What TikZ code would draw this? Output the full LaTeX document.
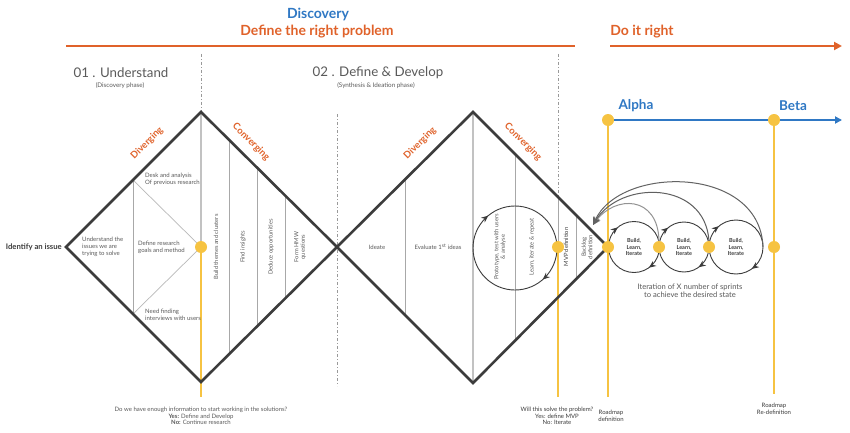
\documentclass[tikz,border=0pt]{standalone}
\usepackage{fontspec}
\setmainfont{Lato}
\usetikzlibrary{arrows.meta,decorations.markings}
\definecolor{dkg}{HTML}{3C3C3C}
\definecolor{ltg}{HTML}{A8A8A8}
\definecolor{txg}{HTML}{5A5A5A}
\definecolor{orng}{HTML}{E0622A}
\definecolor{blu}{HTML}{2F78C4}
\definecolor{ylw}{HTML}{F6C342}
\begin{document}
\begin{tikzpicture}[x=1pt,y=-1pt,
  edge/.style={draw=dkg,line width=2.6pt,line join=miter},
  thin/.style={draw=ltg,line width=0.7pt},
  midg/.style={draw=ltg!70,line width=1.8pt},
  dd/.style={draw=gray!80,line width=0.8pt,dash pattern=on 3pt off 2pt on 1pt off 2pt},
  yl/.style={draw=ylw,line width=2pt},
  dot/.style={circle,fill=ylw,minimum size=12pt,inner sep=0},
  sm/.style={font=\fontsize{6}{6.8}\selectfont,text=txg,inner sep=0,align=left},
  smc/.style={font=\fontsize{6}{6.6}\selectfont,text=txg,inner sep=0,align=center},
  rot/.style={font=\fontsize{5.8}{6.6}\selectfont,text=txg,inner sep=0,align=center,rotate=90},
  phase/.style={font=\fontsize{6.3}{7}\selectfont,text=txg,inner sep=0,align=center},
  ttl/.style={font=\fontsize{13.3}{15}\selectfont,text=txg,inner sep=0},
  dv/.style={font=\bfseries\fontsize{9.5}{11}\selectfont,text=orng,inner sep=0},
  hd/.style={font=\bfseries\fontsize{14}{16}\selectfont,inner sep=0},
  bl/.style={font=\bfseries\fontsize{5.5}{6.5}\selectfont,text=dkg,inner sep=0,align=center},
  carr/.style={draw=dkg,line width=0.9pt,postaction={decorate},
    decoration={markings,
      mark=at position #1 with {\arrow{Stealth[length=7pt,width=6pt]}},
      mark=at position 0.64 with {\arrow{Stealth[length=7pt,width=6pt]}}}},
  loop/.style={line width=1pt,-{Stealth[length=8pt,width=7pt]}}
]
\useasboundingbox (0,0) rectangle (850,433);
\fill[white] (0,0) rectangle (850,433);

% headings
\node[hd,text=blu] (disc) at (318,14) {Discovery};
\node[hd,text=orng] (drp) at (317,32) {Define the right problem};
\node[hd,text=orng] (dir) at (642,32) {Do it right};
\coordinate (o1) at (66,46); \coordinate (o2) at (575,46);
\coordinate (o3) at (610,46); \coordinate (o4) at (842,46);
\draw[orng,line width=2.6pt] (o1) -- (o2);
\draw[orng,line width=2.6pt,-{Triangle[length=8pt,width=8pt]}] (o3) -- (o4);

\node[ttl] (u1) at (121,73) {01 . Understand};
\node[phase] (u2) at (120,85.5) {(Discovery phase)};
\node[ttl] (d1) at (378,73) {02 . Define \& Develop};
\node[phase] (d2) at (376,85.5) {(Synthesis \& Ideation phase)};

% coordinates
\coordinate (L1) at (66,247);
\coordinate (T1) at (201,112);
\coordinate (B1) at (201,382);
\coordinate (J) at (337,247);
\coordinate (T2) at (473,112);
\coordinate (B2) at (473,383);
\coordinate (R2) at (608,247);

% dashed separators
\coordinate (s1a) at (201,54); 
\coordinate (s2a) at (337,114); \coordinate (s2b) at (337,386);
\coordinate (s3a) at (558,54); \coordinate (s3b) at (558,197);
\draw[dd] (s1a) -- (T1);
\draw[dd] (s2a) -- (s2b);
\draw[dd] (s3a) -- (s3b);

% left diamond internals
\coordinate (a1) at (133,180); \coordinate (a2) at (133,314);
\draw[thin] (a1) -- (a2);
\coordinate (D1) at (201,247);
\draw[thin,draw=ltg!80] (a1) -- (D1) -- (a2);
\draw[midg] (T1) -- (D1);
\foreach \x/\t/\b in {229/140/354,257/168/326,285/196/298}{
  \draw[thin] (\x,\t) -- (\x,\b);
}
\coordinate (D1b) at (201,397);
\draw[yl] (D1) -- (D1b);

% right diamond internals
\draw[thin] (405,179) -- (405,315);
\draw[midg] (T2) -- (B2);
\draw[thin] (515,154) -- (515,341);
\coordinate (D2) at (558,247);
\draw[thin] (s3b) -- (D2);
\draw[thin] (576,215) -- (576,280);
\coordinate (D2b) at (558,397);
\draw[yl] (D2) -- (D2b);

% prototype circle
\coordinate (pc) at (515,248);
\draw[carr=0.135] (pc) circle[radius=42];

% diamonds
\draw[edge] (L1) -- (T1) -- (J) -- (B1) -- cycle;
\draw[edge] (J) -- (T2) -- (R2) -- (B2) -- cycle;

% labels diverging/converging
\node[dv,rotate=45] (dv1) at (147,143) {Diverging};
\node[dv,rotate=-45] (cv1) at (251,142) {Converging};
\node[dv,rotate=45] (dv2) at (420,143) {Diverging};
\node[dv,rotate=-45] (cv2) at (523,142) {Converging};

% texts left diamond
\node[font=\bfseries\fontsize{7.7}{9}\selectfont,text=dkg,anchor=east,inner sep=0] (iss) at (62,247) {Identify an issue};
\node[sm,anchor=west] (t1) at (145,179.5) {Desk and analysis\\Of previous research};
\node[sm,anchor=west] (t2) at (82,247) {Understand the\\issues we are\\trying to solve};
\node[sm,anchor=west] (t3) at (138,247.5) {Define research\\goals and method};
\node[sm,anchor=west] (t4) at (145,314.5) {Need finding\\interviews with users};
\node[rot] (r1) at (216,247) {Build themes and clusters};
\node[rot] (r2) at (243,247) {Find insights};
\node[rot] (r3) at (271,247) {Deduce opportunities};
\node[rot] (r4) at (300,247) {Form HMW\\questions};

% texts right diamond
\node[smc] (t5) at (377,247) {Ideate};
\node[smc] (t6) at (438,247) {Evaluate 1\textsuperscript{st} ideas};
\node[rot] (r5) at (500,247) {Prototype, test with users\\\& analyse};
\node[rot] (r6) at (532,247) {Learn, iterate \& repeat};
\node[rot,text=dkg] (r7) at (566,247) {MVP definition};
\node[rot] (r8) at (587,247) {Backlog\\definition};

% alpha / beta
\coordinate (A0) at (608,120);
\coordinate (Bt) at (774,120);
\coordinate (Aend) at (842,120);
\draw[blu,line width=2.4pt,-{Triangle[length=7pt,width=7pt]}] (A0) -- (Aend);
\node[hd,text=blu,font=\bfseries\fontsize{13.5}{15}\selectfont] (alp) at (636,106) {Alpha};
\node[hd,text=blu,font=\bfseries\fontsize{13.5}{15}\selectfont] (bet) at (793,106) {Beta};
\coordinate (Ab) at (608,397);
\coordinate (Bb) at (774,394);
\draw[yl] (A0) -- (Ab);
\draw[yl] (Bt) -- (Bb);

% sprint loops
\draw[carr=0.15] (634,247) circle[radius=25.5];
\draw[carr=0.15] (684,247) circle[radius=25];
\draw[carr=0.15] (736,247) circle[radius=27];
\node[bl] (b1) at (634,247) {Build,\\Learn,\\Iterate};
\node[bl] (b2) at (684,247) {Build,\\Learn,\\Iterate};
\node[bl] (b3) at (736,247) {Build,\\Learn,\\Iterate};

\coordinate (E) at (593,225);
\draw[loop,draw=gray!85] (659,241) .. controls (658,195) and (615,195) .. (E);
\draw[loop,draw=gray!75!black] (709,241) .. controls (705,180) and (620,180) .. (E);
\draw[loop,draw=dkg!80] (763,247) .. controls (760,165) and (620,165) .. (E);

% dots
\node[dot] (dotL) at (D1) {};
\node[dot] (dotM) at (D2) {};
\node[dot] (dotR) at (R2) {};
\node[dot] (dotA) at (A0) {};
\node[dot] (dotB) at (Bt) {};
\node[dot] (dS2) at (659,247) {};
\node[dot] (dS3) at (709,247) {};
\node[dot] (dS4) at (774,247) {};

\node[font=\fontsize{7.6}{8.4}\selectfont,text=txg,align=center,inner sep=0] (itr) at (690,291) {Iteration of X number of sprints\\to achieve the desired state};

% bottom texts
\node[smc] (q1) at (201,416) {Do we have enough information to start working in the solutions?\\\textbf{Yes:} Define and Develop\\\textbf{No:} Continue research};
\node[smc,text=dkg] (q2) at (557,416) {Will this solve the problem?\\Yes: define MVP\\No: Iterate};
\node[smc,text=dkg] (q3) at (611,416) {Roadmap\\definition};
\node[smc,text=dkg] (q4) at (774,409) {Roadmap\\Re-definition};
\end{tikzpicture}
\end{document}
